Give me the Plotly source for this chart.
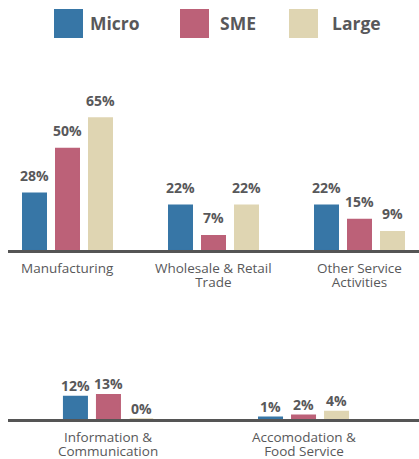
import plotly.graph_objects as go

# Sector shares by firm size (percent)
series_names = ["Micro", "SME", "Large"]
series_colors = ["#3776a6", "#bc6178", "#dfd5b2"]

top_categories = ["Manufacturing", "Wholesale & Retail<br>Trade", "Other Service<br>Activities"]
top_micro = [28, 22, 22]
top_sme = [50, 7, 15]
top_large = [65, 22, 9]

bottom_categories = ["Information &<br>Communication", "Accomodation &<br>Food Service"]
bottom_micro = [12, 1]
bottom_sme = [13, 2]
bottom_large = [0, 4]

W, H = 419, 459
TEXT = "#58585a"
FONT = "Open Sans"

# pixel geometry of the two rows
BAR_PX = 23.5      # bar body width (plus outline)
STEP_PX = 33       # distance between bars in a group
LABEL_TOP = 7      # top of the category label box below the baseline
LABEL_SIZE = 13.5  # glyph size of category labels
LINE_PX = 14       # spacing between category-label lines
VALUE_SIZE = 14    # value label size
BOX_BELOW_BASELINE = 4.5  # annotation box bottom sits this far under the digits
ROWS = [
    # categories, values, axis suffix, px per category, x range, y domain (px), y px per %, value-label gap
    (top_categories, [top_micro, top_sme, top_large], "", 146, (-0.4075, 2.4075), (90, 250), 2.03, 11),
    (bottom_categories, [bottom_micro, bottom_sme, bottom_large], "2", 195, (-0.515, 1.592), (340, 419), 1.87, 4),
]

fig = go.Figure()

for cats, values, ax, px_per_cat, xr, (ytop, ybase), px_per_pct, gap in ROWS:
    for i, (name, color, vals) in enumerate(zip(series_names, series_colors, values)):
        centre_px = (i - 1) * STEP_PX
        fig.add_trace(go.Bar(
            x=cats, y=vals, name=name,
            xaxis="x" + ax, yaxis="y" + ax,
            width=BAR_PX / px_per_cat,
            offset=(centre_px - BAR_PX / 2) / px_per_cat,
            marker=dict(color=color, line=dict(color=color, width=1.5)),
            cliponaxis=False, showlegend=False, hoverinfo="skip",
        ))
        # value labels above each bar
        for cat, v in zip(cats, vals):
            fig.add_annotation(
                xref="x" + ax, yref="y" + ax, x=cat, y=v,
                xshift=centre_px, yshift=gap - BOX_BELOW_BASELINE,
                xanchor="center", yanchor="bottom", showarrow=False,
                text=f"{v}%",
                font=dict(family=FONT, size=VALUE_SIZE, color=TEXT, weight="bold"),
            )
    xa = dict(
        domain=[8 / W, 1], range=list(xr), type="category",
        showline=True, linewidth=3, linecolor="#555555",
        showgrid=False, zeroline=False, ticks="", showticklabels=False,
        anchor="y" + ax, fixedrange=True, automargin=False,
    )
    ya = dict(
        domain=[1 - ybase / H, 1 - ytop / H],
        range=[0, (ybase - ytop) / px_per_pct],
        visible=False, anchor="x" + ax, fixedrange=True, automargin=False,
    )
    fig.update_layout({"xaxis" + ax: xa, "yaxis" + ax: ya})

    # category names under the axis; the base font sets a tight line pitch,
    # the inner spans set the glyph size
    for cat in cats:
        text = "<br>".join(
            f'<span style="font-size:{LABEL_SIZE}px">{line}</span>' for line in cat.split("<br>")
        )
        fig.add_annotation(
            xref="x" + ax, yref="paper", x=cat,
            y=1 - (ybase + LABEL_TOP) / H,
            xanchor="center", yanchor="top", showarrow=False,
            text=text, font=dict(family=FONT, size=LINE_PX / 1.3, color=TEXT),
        )

# legend: colour squares with series names
legend_square_x = [54, 180, 289]
legend_text_x = [88, 218, 330]
for name, color, sx, tx in zip(series_names, series_colors, legend_square_x, legend_text_x):
    fig.add_shape(type="rect", xref="paper", yref="paper",
                  x0=sx / W, x1=(sx + 29) / W, y0=1 - 38 / H, y1=1 - 9 / H,
                  fillcolor=color, line=dict(width=0))
    fig.add_annotation(xref="paper", yref="paper", x=tx / W, y=1 - 23.5 / H,
                       xanchor="left", yanchor="middle", showarrow=False,
                       text=name, font=dict(family=FONT, size=17.5, color=TEXT, weight="bold"))

fig.update_layout(
    width=W, height=H,
    margin=dict(l=0, r=0, t=0, b=0),
    paper_bgcolor="white", plot_bgcolor="white",
    barmode="overlay", showlegend=False,
)

fig.write_html("out.html", config={"displayModeBar": False})
